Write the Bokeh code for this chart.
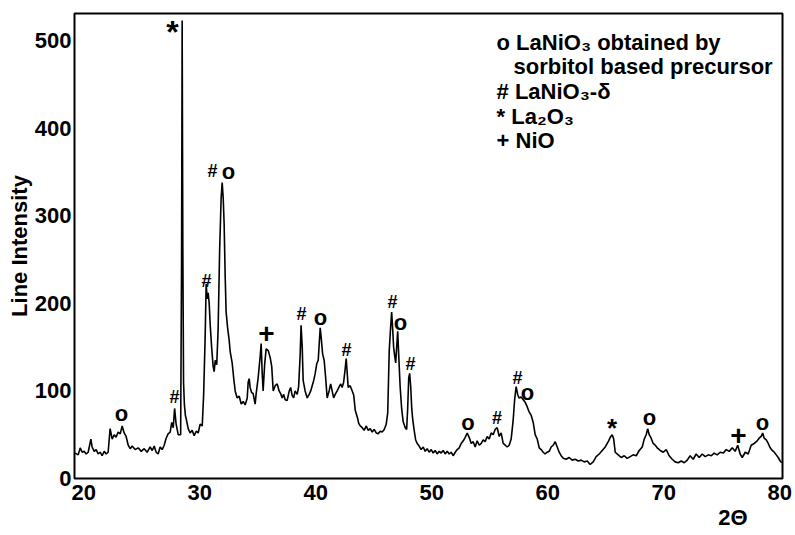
from bokeh.plotting import figure
from bokeh.models import Label, Range1d, FixedTicker, Title
from bokeh.core.properties import value
from bokeh.embed import file_html
from bokeh.resources import INLINE

# ---------------- data ----------------
two_theta = [
    19.27, 19.53, 19.70, 19.87, 20.04, 20.22, 20.39, 20.62, 20.73, 20.91,
    21.08, 21.25, 21.42, 21.59, 21.77, 21.94, 22.11, 22.28, 22.46, 22.63,
    22.80, 22.97, 23.15, 23.32, 23.49, 23.66, 23.84, 24.01, 24.18, 24.44,
    24.70, 24.96, 25.22, 25.47, 25.73, 25.91, 26.08, 26.25, 26.42, 26.59,
    26.77, 26.94, 27.11, 27.28, 27.46, 27.59, 27.72, 27.84, 27.97, 28.15,
    28.36, 28.44, 28.49, 28.55, 28.61, 28.68, 28.77, 28.84, 29.01, 29.18,
    29.35, 29.53, 29.70, 29.87, 30.04, 30.22, 30.34, 30.47, 30.56, 30.65,
    30.73, 30.82, 30.91, 31.03, 31.16, 31.25, 31.34, 31.47, 31.59, 31.72,
    31.85, 31.94, 32.03, 32.11, 32.20, 32.28, 32.41, 32.54, 32.63, 32.80,
    32.93, 33.06, 33.23, 33.41, 33.58, 33.75, 33.92, 34.10, 34.18, 34.27,
    34.35, 34.48, 34.61, 34.78, 34.87, 35.04, 35.22, 35.30, 35.39, 35.47,
    35.60, 35.73, 35.91, 36.08, 36.21, 36.34, 36.51, 36.68, 36.85, 36.98,
    37.11, 37.24, 37.37, 37.54, 37.72, 37.84, 37.97, 38.10, 38.23, 38.41,
    38.53, 38.66, 38.74, 38.84, 38.92, 39.09, 39.27, 39.44, 39.57, 39.70,
    39.83, 39.96, 40.09, 40.22, 40.31, 40.39, 40.48, 40.60, 40.73, 40.86,
    40.99, 41.16, 41.29, 41.42, 41.55, 41.68, 41.85, 42.03, 42.16, 42.28,
    42.41, 42.54, 42.63, 42.72, 42.80, 42.97, 43.15, 43.28, 43.41, 43.59,
    43.71, 43.84, 44.01, 44.18, 44.36, 44.53, 44.70, 44.87, 45.04, 45.22,
    45.39, 45.56, 45.73, 45.91, 46.08, 46.21, 46.34, 46.47, 46.55, 46.64,
    46.72, 46.81, 46.90, 46.98, 47.07, 47.16, 47.28, 47.41, 47.54, 47.72,
    47.84, 47.93, 48.02, 48.10, 48.19, 48.28, 48.36, 48.49, 48.62, 48.75,
    48.92, 49.09, 49.27, 49.44, 49.61, 49.78, 49.96, 50.13, 50.30, 50.47,
    50.65, 50.82, 50.99, 51.16, 51.34, 51.51, 51.68, 51.85, 52.03, 52.20,
    52.37, 52.54, 52.72, 52.89, 53.06, 53.23, 53.41, 53.58, 53.75, 53.92,
    54.10, 54.27, 54.44, 54.61, 54.78, 54.96, 55.13, 55.30, 55.47, 55.65,
    55.82, 55.99, 56.16, 56.34, 56.51, 56.68, 56.85, 57.02, 57.15, 57.28,
    57.41, 57.53, 57.71, 57.89, 58.06, 58.23, 58.40, 58.58, 58.75, 58.92,
    59.10, 59.27, 59.44, 59.61, 59.78, 59.96, 60.13, 60.30, 60.47, 60.65,
    60.82, 60.99, 61.16, 61.34, 61.59, 61.85, 62.11, 62.37, 62.63, 62.89,
    63.15, 63.41, 63.66, 63.92, 64.18, 64.44, 64.70, 64.96, 65.22, 65.39,
    65.56, 65.69, 65.82, 66.08, 66.34, 66.60, 66.85, 67.11, 67.37, 67.63,
    67.89, 68.15, 68.32, 68.49, 68.62, 68.75, 68.92, 69.09, 69.27, 69.44,
    69.70, 69.96, 70.22, 70.47, 70.73, 70.99, 71.25, 71.51, 71.77, 72.03,
    72.28, 72.54, 72.80, 73.06, 73.32, 73.58, 73.84, 74.10, 74.35, 74.61,
    74.87, 75.13, 75.39, 75.65, 75.91, 76.16, 76.38, 76.59, 76.77, 77.03,
    77.28, 77.54, 77.80, 78.06, 78.23, 78.40, 78.53, 78.66, 78.84, 79.01,
    79.18, 79.35, 79.53, 79.70, 79.87, 80.04, 80.17,
]
intensity = [
    29, 27, 35, 30, 31, 28, 30, 45, 36, 31,
    33, 28, 30, 26, 31, 28, 30, 57, 45, 50,
    47, 53, 51, 60, 52, 48, 38, 34, 37, 33,
    35, 31, 34, 30, 36, 32, 37, 30, 28, 36,
    33, 38, 46, 51, 53, 64, 58, 80, 62, 50,
    50, 250, 523, 260, 110, 85, 72, 68, 57, 52,
    55, 49, 54, 52, 62, 60, 95, 160, 222, 205,
    212, 200, 175, 150, 128, 122, 135, 130, 170, 260,
    320, 338, 320, 290, 230, 190, 172, 158, 145, 132,
    115, 100, 92, 94, 85, 88, 84, 92, 110, 114,
    104, 98, 97, 85, 97, 115, 140, 154, 120, 100,
    130, 148, 146, 138, 128, 100, 106, 108, 100, 97,
    92, 96, 90, 89, 100, 104, 95, 92, 100, 96,
    105, 140, 175, 150, 112, 100, 92, 96, 100, 106,
    112, 120, 131, 135, 155, 172, 160, 142, 135, 115,
    92, 100, 108, 100, 92, 96, 100, 105, 108, 104,
    110, 125, 137, 120, 104, 106, 100, 95, 78, 70,
    63, 60, 58, 55, 60, 55, 57, 53, 56, 52,
    51, 54, 53, 56, 62, 75, 146, 175, 190, 170,
    150, 140, 132, 150, 168, 140, 105, 80, 65, 58,
    56, 80, 115, 120, 105, 80, 68, 55, 44, 40,
    37, 33, 36, 31, 34, 30, 33, 29, 32, 28,
    31, 29, 32, 28, 31, 28, 30, 26, 30, 33,
    35, 40, 43, 47, 52, 47, 40, 42, 36, 43,
    38, 40, 44, 42, 48, 45, 52, 50, 56, 58,
    48, 52, 40, 38, 36, 38, 45, 66, 90, 105,
    96, 92, 93, 90, 87, 82, 76, 72, 64, 50,
    45, 35, 33, 30, 28, 30, 31, 36, 38, 42,
    36, 30, 26, 23, 22, 24, 21, 22, 20, 21,
    19, 20, 16, 19, 25, 28, 32, 36, 42, 47,
    50, 45, 30, 27, 24, 26, 23, 25, 27, 26,
    32, 36, 45, 50, 57, 50, 46, 40, 38, 35,
    32, 30, 33, 26, 22, 19, 18, 20, 18, 21,
    26, 22, 28, 24, 28, 25, 27, 26, 29, 27,
    30, 29, 33, 31, 35, 31, 38, 28, 24, 30,
    28, 38, 40, 43, 46, 48, 52, 46, 44, 40,
    35, 32, 30, 27, 24, 20, 18,
]

x_ticks = [20, 30, 40, 50, 60, 70, 80]
y_ticks = [0, 100, 200, 300, 400, 500]

# peak identification marks (2-theta, height of the mark)
hash_x = [27.83, 30.59, 31.10, 38.78, 42.65, 46.62, 48.17, 55.63, 57.40]
hash_y = [93.6, 225.0, 350.6, 187.3, 147.3, 202.1, 131.3, 69.1, 114.8]
o_x = [23.26, 32.48, 40.41, 47.31, 53.13, 58.26, 68.78, 78.52]
o_y = [74.2, 350.6, 183.9, 178.1, 63.9, 97.7, 69.7, 63.4]
star_big_x = [27.66]
star_big_y = [509.5]
star_x = [65.54]
star_y = [58.2]
plus_x = [35.76, 76.45]
plus_y = [165.6, 49.1]

legend_lines = [
    "o LaNiO\u2083 obtained by",
    "sorbitol based precursor",
    "# LaNiO\u2083-\u03b4",
    "* La\u2082O\u2083",
    "+ NiO",
]
legend_x = [55.59, 57.05, 55.59, 55.59, 55.59]
legend_y = [498.0, 470.5, 442.0, 413.5, 386.0]

FONT = "Liberation Sans"

p = figure(
    frame_width=708, frame_height=465,
    x_range=Range1d(19.21, 80.24), y_range=Range1d(0, 531),
    output_backend="svg", toolbar_location=None,
    min_border_left=74, min_border_top=13, min_border_right=13, min_border_bottom=20,
    background_fill_color="white", border_fill_color="white",
)

p.line(two_theta, intensity, line_color="black", line_width=1.6)

# axes
p.xaxis.ticker = FixedTicker(ticks=x_ticks)
p.yaxis.ticker = FixedTicker(ticks=y_ticks)
for ax in (p.xaxis[0], p.yaxis[0]):
    ax.axis_line_color = None
    ax.major_tick_line_color = None
    ax.minor_tick_line_color = None
    ax.major_tick_out = 0
    ax.major_tick_in = 0
    ax.minor_tick_out = 0
    ax.minor_tick_in = 0
    ax.major_label_text_font = FONT
    ax.major_label_text_font_size = "22px"
    ax.major_label_text_font_style = "bold"
    ax.major_label_text_color = "black"
p.xaxis.major_label_standoff = 6
p.yaxis.major_label_standoff = 3
p.yaxis.axis_label = "Line Intensity"
p.yaxis.axis_label_text_font = FONT
p.yaxis.axis_label_text_font_size = "22px"
p.yaxis.axis_label_text_font_style = "bold"
p.yaxis.axis_label_text_color = "black"
p.yaxis.axis_label_standoff = 0
p.grid.grid_line_color = None
p.outline_line_color = "black"
p.outline_line_width = 2
p.outline_line_alpha = 1

# x axis title at lower right
p.add_layout(Title(text="2\u0398", align="right", offset=35, text_font=FONT,
                   text_font_size="22px", text_font_style="bold",
                   text_color="black", standoff=0), "below")

# peak marks
def marks(xs, ys, sym, size):
    p.text(x=xs, y=ys, text=[sym] * len(xs), text_font=value(FONT),
           text_font_size=size, text_font_style="bold", text_color="black",
           text_align="center", text_baseline="middle")

marks(hash_x, hash_y, "#", "18px")
marks(o_x, o_y, "o", "22px")
marks(star_big_x, star_big_y, "*", "32px")
marks(star_x, star_y, "*", "26px")
marks(plus_x, plus_y, "+", "28px")

# legend text block
for t, lx, ly in zip(legend_lines, legend_x, legend_y):
    p.add_layout(Label(x=lx, y=ly, text=t, text_font=FONT, text_font_size="22px",
                       text_font_style="bold", text_align="left",
                       text_baseline="middle", text_color="black"))

open("out.html", "w").write(file_html(p, INLINE))
